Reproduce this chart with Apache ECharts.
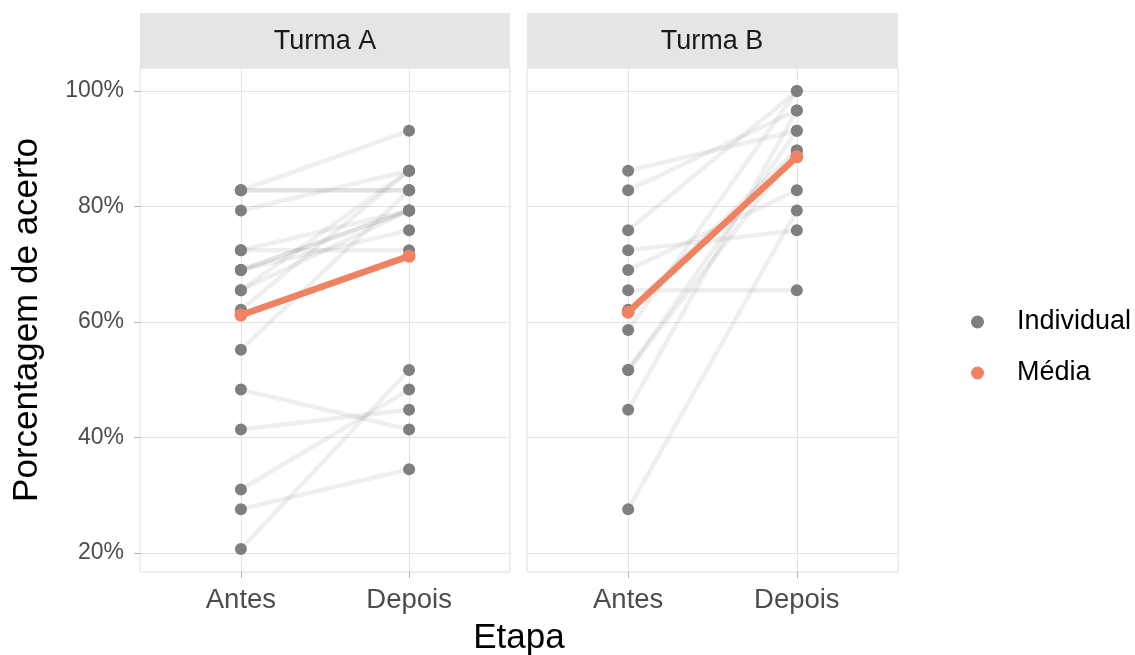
<!DOCTYPE html>
<html>
<head>
<meta charset="utf-8">
<script src="https://cdn.jsdelivr.net/npm/echarts@6/dist/echarts.min.js"></script>
<style>
  html, body { margin: 0; padding: 0; background: #fff; }
  #chart { width: 1135px; height: 655px; }
</style>
</head>
<body>
<div id="chart"></div>
<script>
// eixo x
var etapas = ['Antes', 'Depois'];
var yTicks = [20, 40, 60, 80, 100];

// Turma A: cada índice é um aluno (antes -> depois), em %
var antesA  = [82.8, 82.8, 82.8, 79.3, 72.4, 72.4, 69.0, 69.0, 69.0, 65.5, 65.5, 62.1, 55.2, 48.3, 41.4, 31.0, 27.6, 20.7];
var depoisA = [93.1, 82.8, 82.8, 86.2, 72.4, 79.3, 79.3, 79.3, 75.9, 79.3, 86.2, 86.2, 82.8, 41.4, 44.8, 48.3, 34.5, 51.7];

// Turma B
var antesB  = [86.2, 82.8, 75.9, 72.4, 69.0, 65.5, 62.1, 58.6, 51.7, 51.7, 44.8, 27.6];
var depoisB = [93.1, 96.6, 100,  75.9, 82.8, 65.5, 89.7, 100,  93.1, 89.7, 96.6, 79.3];

// médias
var mediaA = [61.2, 71.4];
var mediaB = [61.7, 88.6];

var FONT = 'Liberation Sans, Arial, sans-serif';
var GREY = '#7F7F7F';
var ORANGE = '#EF8361';

var chart = echarts.init(document.getElementById('chart'));

function xAxisCfg(idx) {
    return {
        type: 'value', gridIndex: idx, min: 0.4, max: 2.6,
        axisLine: { show: false },
        axisTick: { show: true, length: 6, customValues: [1, 2], lineStyle: { color: '#B3B3B3' } },
        axisLabel: {
            customValues: [1, 2], margin: 14,
            color: '#4D4D4D', fontSize: 27.5, fontFamily: FONT,
            formatter: function (v) { return etapas[Math.round(v) - 1]; }
        },
        splitLine: { show: true, lineStyle: { color: '#E3E3E3', width: 1 } }
    };
}

function yAxisCfg(idx, labels) {
    return {
        type: 'value', gridIndex: idx, min: 16.72, max: 103.97,
        name: labels ? 'Porcentagem de acerto' : '',
        nameLocation: 'middle', nameRotate: 90, nameGap: 95,
        nameTextStyle: { color: '#000', fontSize: 35, fontFamily: FONT },
        axisLine: { show: false },
        axisTick: { show: labels, length: 6, customValues: yTicks, lineStyle: { color: '#B3B3B3' } },
        axisLabel: {
            show: labels, customValues: yTicks, margin: 16,
            color: '#4D4D4D', fontSize: 23, fontFamily: FONT,
            formatter: function (v) { return v + '%'; }
        },
        splitLine: { show: true, lineStyle: { color: '#E3E3E3', width: 1 } }
    };
}

var series = [];

function addTurma(idx, antes, depois, media) {
    for (var i = 0; i < antes.length; i++) {
        series.push({
            type: 'line', name: 'linha', xAxisIndex: idx, yAxisIndex: idx,
            data: [[1, antes[i]], [2, depois[i]]],
            showSymbol: false, silent: true, z: 1,
            lineStyle: { color: 'rgba(127,127,127,0.12)', width: 4.5 }
        });
    }
    var pts = [];
    for (var j = 0; j < antes.length; j++) {
        pts.push([1, antes[j]]);
        pts.push([2, depois[j]]);
    }
    series.push({
        type: 'scatter', name: 'Individual', xAxisIndex: idx, yAxisIndex: idx,
        data: pts, symbolSize: 12, z: 2, silent: true,
        itemStyle: { color: GREY, opacity: 1 }
    });
    series.push({
        type: 'line', name: 'Média', xAxisIndex: idx, yAxisIndex: idx,
        data: [[1, media[0]], [2, media[1]]],
        symbol: 'circle', symbolSize: 13, showSymbol: true, z: 3, silent: true,
        lineStyle: { color: ORANGE, width: 6.5 },
        itemStyle: { color: ORANGE }
    });
}

addTurma(0, antesA, depoisA, mediaA);
addTurma(1, antesB, depoisB, mediaB);

var option = {
    animation: false,
    backgroundColor: '#fff',
    textStyle: { fontFamily: FONT },
    grid: [
        { left: 140, top: 68, width: 370, height: 504, show: true, borderColor: '#DEDEDE', borderWidth: 1, backgroundColor: '#fff' },
        { left: 527, top: 68, width: 371, height: 504, show: true, borderColor: '#DEDEDE', borderWidth: 1, backgroundColor: '#fff' }
    ],
    xAxis: [xAxisCfg(0), xAxisCfg(1)],
    yAxis: [yAxisCfg(0, true), yAxisCfg(1, false)],
    legend: {
        orient: 'vertical', left: 966, top: 302,
        itemWidth: 13, itemHeight: 13, itemGap: 21,
        icon: 'circle',
        selectedMode: false,
        textStyle: { fontSize: 27, color: '#000', fontFamily: FONT, lineHeight: 30, padding: [0, 0, 0, 28] },
        data: [
            { name: 'Individual', itemStyle: { color: GREY } },
            { name: 'Média', itemStyle: { color: ORANGE } }
        ]
    },
    graphic: [
        { type: 'rect', shape: { x: 140, y: 13, width: 370, height: 55 }, style: { fill: '#E5E5E5' }, silent: true },
        { type: 'rect', shape: { x: 527, y: 13, width: 371, height: 55 }, style: { fill: '#E5E5E5' }, silent: true },
        { type: 'text', x: 325, y: 42, style: { text: 'Turma A', fill: '#1A1A1A', font: '27px ' + FONT, textAlign: 'center', textVerticalAlign: 'middle' }, silent: true },
        { type: 'text', x: 712, y: 42, style: { text: 'Turma B', fill: '#1A1A1A', font: '27px ' + FONT, textAlign: 'center', textVerticalAlign: 'middle' }, silent: true },
        { type: 'text', x: 519, y: 638, style: { text: 'Etapa', fill: '#000', font: '35px ' + FONT, textAlign: 'center', textVerticalAlign: 'middle' }, silent: true }
    ],
    series: series
};

chart.setOption(option);
</script>
</body>
</html>
